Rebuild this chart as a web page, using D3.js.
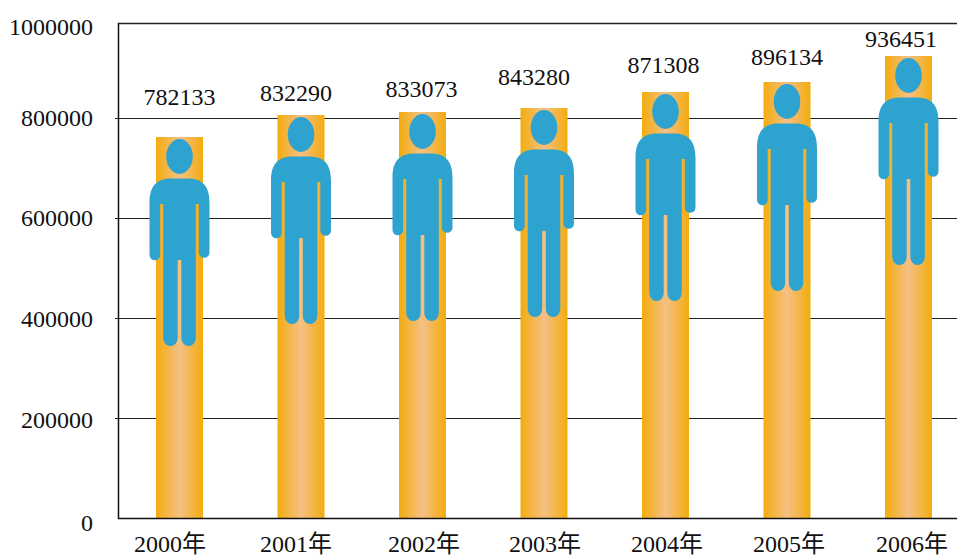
<!DOCTYPE html>
<html><head><meta charset="utf-8">
<script src="https://cdn.jsdelivr.net/npm/d3@7"></script>
<style>html,body{margin:0;padding:0;background:#fff;overflow:hidden}svg{display:block}
text{font-family:"Liberation Serif","Noto Sans CJK SC",serif;fill:#111}</style></head>
<body><script>
const years = ["2000年","2001年","2002年","2003年","2004年","2005年","2006年"];
const labelValues = [782133,832290,833073,843280,871308,896134,936451];
const barHeightsRead = [762000,806000,812000,820000,852000,872000,924000];
const axisTicks = [0,200000,400000,600000,800000,1000000];

const W=957,H=556,plotLeft=118,plotTop=23,plotBottom=518;
// layout nudges seen in the picture
const labelDx=[0,-5,-1,-10,-2,0,-7.5], labelDy=[-32,-14,-15,-23,-19,-17,-9];
const yearDx=[-9.5,-5,1.5,1,1.5,2,3.5];
const tickDy={0:13,200000:10,400000:9,600000:8,800000:8,1000000:12};

const svg=d3.select("body").append("svg").attr("width",W).attr("height",H);
const x=d3.scaleBand().domain(years).range([118.75,969.25]);
const y=d3.scaleLinear().domain([0,1000000]).range([plotBottom,18]);
const barW=47;

const grad=svg.append("defs").append("linearGradient").attr("id","g");
[[0,"#f3ac0e"],[0.5,"#f5c084"],[1,"#f3ac0e"]].forEach(s=>grad.append("stop").attr("offset",s[0]).attr("stop-color",s[1]));

// gridlines
svg.append("g").selectAll("line").data(axisTicks.filter(d=>d>0&&d<1000000)).join("line")
 .attr("x1",plotLeft-3).attr("x2",W).attr("y1",d=>y(d)+.5).attr("y2",d=>y(d)+.5)
 .attr("stroke","#222").attr("stroke-width",1);
svg.append("line").attr("x1",plotLeft).attr("x2",W).attr("y1",plotTop+.5).attr("y2",plotTop+.5).attr("stroke","#222").attr("stroke-width",1.3);

// bars
const cx=(d)=>x(d)+x.bandwidth()/2;
svg.append("g").selectAll("rect").data(years).join("rect")
 .attr("x",d=>cx(d)-barW/2).attr("width",barW)
 .attr("y",(d,i)=>y(barHeightsRead[i])).attr("height",(d,i)=>plotBottom-y(barHeightsRead[i]))
 .attr("fill","url(#g)");

// person glyph, local units: origin at head top centre
const person="M-30,64 C-30,46 -22,39.5 -8,39.5 L8,39.5 C22,39.5 30,46 30,64 L30,113.5 A5.35,5.35 0 0 1 19.3,113.5 L19.3,65 L16.3,65 L16.3,199 A7.25,8 0 0 1 1.8,199 L1.8,121 L-1.8,121 L-1.8,199 A7.25,8 0 0 1 -16.3,199 L-16.3,65 L-19.3,65 L-19.3,116 A5.35,5.35 0 0 1 -30,116 Z";
const pg=svg.append("g").selectAll("g").data(years).join("g")
 .attr("transform",(d,i)=>`translate(${cx(d)},${y(barHeightsRead[i])+2})`);
pg.append("ellipse").attr("cx",0).attr("cy",17.5).attr("rx",13.3).attr("ry",17.5).attr("fill","#2fa3d0");
pg.append("path").attr("d",person).attr("fill","#2fa3d0");

// axes frame
svg.append("line").attr("x1",plotLeft+.5).attr("x2",plotLeft+.5).attr("y1",plotTop).attr("y2",plotBottom+1).attr("stroke","#111").attr("stroke-width",1.5);
svg.append("line").attr("x1",plotLeft).attr("x2",W).attr("y1",plotBottom+.5).attr("y2",plotBottom+.5).attr("stroke","#111").attr("stroke-width",1.5);

const fs=24;
svg.append("g").selectAll("text").data(axisTicks).join("text")
 .attr("x",93).attr("y",d=>(d===1000000?plotTop:y(d))+tickDy[d])
 .attr("text-anchor","end").attr("font-size",fs).text(d=>d);
svg.append("g").selectAll("text").data(years).join("text")
 .attr("x",(d,i)=>cx(d)+yearDx[i]).attr("y",552).attr("text-anchor","middle").attr("font-size",fs).text(d=>d);
svg.append("g").selectAll("text").data(labelValues).join("text")
 .attr("x",(d,i)=>cx(years[i])+labelDx[i]).attr("y",(d,i)=>y(barHeightsRead[i])+labelDy[i])
 .attr("text-anchor","middle").attr("font-size",fs).text(d=>d);
</script></body></html>
